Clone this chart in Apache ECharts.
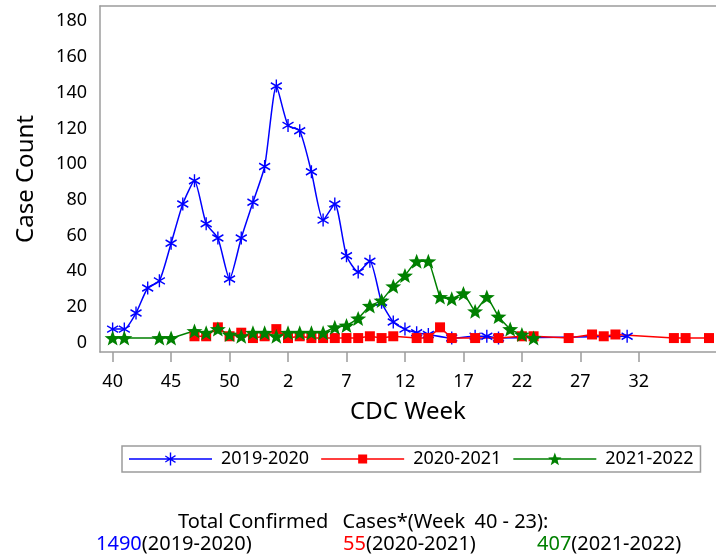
<!DOCTYPE html>
<html>
<head>
<meta charset="utf-8">
<title>Case Count by CDC Week</title>
<script src="https://cdn.jsdelivr.net/npm/echarts@6/dist/echarts.min.js"></script>
<style>
    html, body { margin: 0; padding: 0; background: #fff; }
    #caseChart { width: 716px; height: 556px; }
</style>
</head>
<body>
<div id="caseChart"></div>
<script>
// CDC weeks on the x axis (season runs week 40 -> week 38 of next year)
var weeks = [40, 41, 42, 43, 44, 45, 46, 47, 48, 49, 50, 51, 52, 53,
    1, 2, 3, 4, 5, 6, 7, 8, 9, 10, 11, 12, 13, 14, 15, 16, 17, 18, 19,
    20, 21, 22, 23, 24, 25, 26, 27, 28, 29, 30, 31, 32, 33, 34, 35, 36, 37, 38];
var tickWeeks = [40, 45, 50, 2, 7, 12, 17, 22, 27, 32];
var yTicks = [0, 20, 40, 60, 80, 100, 120, 140, 160, 180];

var seasonNames = ['2019-2020', '2020-2021', '2021-2022'];
var seasonTotals = [1490, 55, 407];

// case counts per week, null = no report that week
var cases1920 = [6, 6, 15, 29, 33, 54, 76, 89, 65, 57, 34, 57, 77, 97,
    142, 120, 117, 94, 67, 76, 47, 38, 44, 21, 10, 6, 4, 3, null, 1, null, 2, 2,
    1, null, null, null, null, null, null, null, null, null, null, 2, null, null, null, null, null, null, null];
var cases2021 = [null, null, null, null, null, null, null, 2, 2, 7, 2, 4, 1, 2,
    6, 1, 2, 1, 1, 1, 1, 1, 2, 1, 2, null, 1, 1, 7, 1, null, 1, null,
    1, null, 2, 2, null, null, 1, null, 3, 2, 3, null, null, null, null, 1, 1, null, 1];
var cases2122 = [1, 1, null, null, 1, 1, null, 5, 4, 6, 3, 2, 4, 4,
    2, 4, 4, 4, 4, 7, 8, 12, 19, 22, 30, 36, 44, 44, 24, 23, 26, 16, 24,
    13, 6, 3, 1, null, null, null, null, null, null, null, null, null, null, null, null, null, null, null];

var seasonColors = ['#0000ff', '#ff0000', '#008000'];
var fontName = 'Noto Sans';
var frameColor = '#9c9c9c';

function toPoints(arr) {
    var pts = [];
    for (var i = 0; i < arr.length; i++) {
        if (arr[i] !== null) pts.push([i, arr[i]]);
    }
    return pts;
}

var tickIdx = tickWeeks.map(function (w) { return weeks.indexOf(w); });

// 5 point star, as path text
function starSvg(cx, cy, r1, r2) {
    var d = '';
    for (var k = 0; k < 10; k++) {
        var r = k % 2 ? r2 : r1;
        var a = -Math.PI / 2 + k * Math.PI / 5;
        d += (k ? 'L' : 'M') + (cx + r * Math.cos(a)).toFixed(2) + ',' + (cy + r * Math.sin(a)).toFixed(2) + ' ';
    }
    return d + 'Z ';
}

var asteriskPath = 'path://M5,0 L5,12 M0,3 L10,9 M0,9 L10,3';
var starPath = 'path://' + starSvg(0, 0, 10, 4.2);

// legend icons: line + marker in one 83x14 box
var lineBar = 'M0,6.25 L83,6.25 L83,7.75 L0,7.75 Z ';
var boxCorners = 'M0,0 L0,0 Z M83,14 L83,14 Z ';
var legendIcons = [
    'path://' + boxCorners + lineBar +
        'M40.8,0.5 L42.2,0.5 L42.2,13.5 L40.8,13.5 Z ' +
        'M36.6,3.4 L46.8,9.8 L46.2,10.9 L36,4.5 Z ' +
        'M36,9.5 L46.2,3.1 L46.8,4.2 L36.6,10.6 Z',
    'path://' + boxCorners + lineBar + 'M37,2.5 L46,2.5 L46,11.5 L37,11.5 Z',
    'path://' + boxCorners + lineBar + starSvg(41.5, 7.6, 7, 2.9)
];

var totalsLine = seasonNames.map(function (name, i) {
    return '{c' + i + '|' + seasonTotals[i] + '}(' + name + ')';
});

var chart = echarts.init(document.getElementById('caseChart'));

var option = {
    animation: false,
    backgroundColor: '#fff',
    textStyle: { fontFamily: fontName, color: '#000' },
    grid: { left: 100, right: 0, top: 6, bottom: 204 },
    xAxis: [{
        type: 'value',
        min: -1.08,
        max: 51.6,
        name: 'CDC Week',
        nameLocation: 'middle',
        nameGap: 48,
        nameTextStyle: { fontSize: 24, color: '#000', fontFamily: fontName },
        axisLine: { show: true, onZero: false, lineStyle: { color: frameColor, width: 1.5 } },
        axisTick: { show: true, length: 10, customValues: tickIdx, lineStyle: { color: frameColor, width: 1.5 } },
        axisLabel: {
            customValues: tickIdx,
            margin: 21,
            fontSize: 18,
            color: '#000',
            formatter: function (v) { return weeks[Math.round(v)]; }
        },
        splitLine: { show: false }
    }, {
        // top edge of the frame
        type: 'value',
        position: 'top',
        min: -1.08,
        max: 51.6,
        axisLine: { show: true, onZero: false, lineStyle: { color: frameColor, width: 1.5 } },
        axisTick: { show: false },
        axisLabel: { show: false },
        splitLine: { show: false }
    }],
    yAxis: {
        type: 'value',
        min: -6.8,
        max: 186.8,
        name: 'Case Count',
        nameLocation: 'middle',
        nameGap: 62,
        nameTextStyle: { fontSize: 24, color: '#000', fontFamily: fontName },
        axisLine: { show: true, onZero: false, lineStyle: { color: frameColor, width: 1.5 } },
        axisTick: { show: false },
        axisLabel: {
            customValues: yTicks,
            margin: 13,
            formatter: '{v|{value}}',
            rich: { v: { fontSize: 18, color: '#000', fontFamily: fontName, padding: [6, 0, 0, 0] } }
        },
        splitLine: { show: false }
    },
    legend: {
        left: 122,
        top: 446,
        itemWidth: 83,
        itemHeight: 14,
        itemGap: 12,
        padding: [4, 7, 4, 7],
        borderColor: frameColor,
        borderWidth: 1.5,
        textStyle: { fontSize: 18, color: '#000', padding: [0, 0, 0, 4] },
        data: seasonNames.map(function (name, i) {
            return { name: name, icon: legendIcons[i], itemStyle: { borderWidth: 0 } };
        })
    },
    series: [{
        name: seasonNames[0],
        type: 'line',
        data: toPoints(cases1920),
        smooth: 0.2,
        symbol: asteriskPath,
        symbolSize: [11, 13],
        lineStyle: { color: seasonColors[0], width: 1.5 },
        itemStyle: { color: seasonColors[0], borderColor: seasonColors[0], borderWidth: 1.5 }
    }, {
        name: seasonNames[1],
        type: 'line',
        data: toPoints(cases2021),
        symbol: 'rect',
        symbolSize: 10,
        lineStyle: { color: seasonColors[1], width: 1.5 },
        itemStyle: { color: seasonColors[1] }
    }, {
        name: seasonNames[2],
        type: 'line',
        data: toPoints(cases2122),
        smooth: 0.1,
        symbol: starPath,
        symbolSize: [16, 15],
        lineStyle: { color: seasonColors[2], width: 1.5 },
        itemStyle: { color: seasonColors[2] }
    }],
    graphic: [{
        type: 'text',
        left: 178,
        top: 512,
        style: {
            text: '{a|Total Confirmed }{b|Cases*(Week }{c|40 - 23):}',
            fontSize: 20, fontFamily: fontName, fill: '#000',
            rich: {
                a: { fontSize: 20, fontFamily: fontName, fill: '#000' },
                b: { fontSize: 20, fontFamily: fontName, fill: '#000', padding: [0, 0, 0, 9] },
                c: { fontSize: 20, fontFamily: fontName, fill: '#000', padding: [0, 0, 0, 4] }
            }
        }
    }, {
        type: 'text',
        left: 96,
        top: 534,
        style: {
            text: totalsLine[0], fontSize: 20, fontFamily: fontName, fill: '#000',
            rich: { c0: { fill: seasonColors[0], fontSize: 20, fontFamily: fontName } }
        }
    }, {
        type: 'text',
        left: 343,
        top: 534,
        style: {
            text: totalsLine[1], fontSize: 20, fontFamily: fontName, fill: '#000',
            rich: { c1: { fill: seasonColors[1], fontSize: 20, fontFamily: fontName } }
        }
    }, {
        type: 'text',
        left: 537,
        top: 534,
        style: {
            text: totalsLine[2], fontSize: 20, fontFamily: fontName, fill: '#000',
            rich: { c2: { fill: seasonColors[2], fontSize: 20, fontFamily: fontName } }
        }
    }]
};

chart.setOption(option);
</script>
</body>
</html>
